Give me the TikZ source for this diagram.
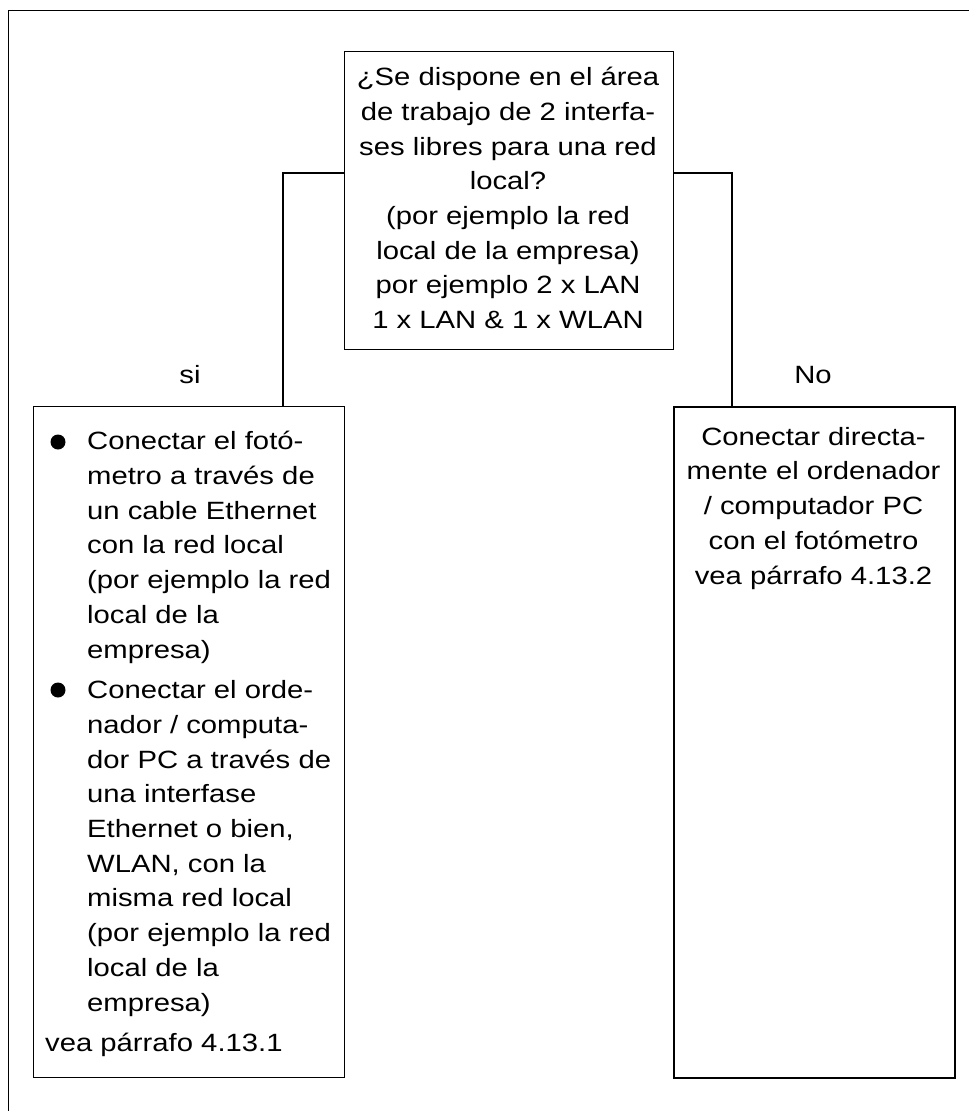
\documentclass[tikz,border=0pt]{standalone}
\usepackage{fontspec}
\setmainfont{Liberation Sans}[FakeStretch=1.17]
\begin{document}
\begin{tikzpicture}[x=1pt,y=-1pt,
  box/.style={draw,line width=1pt,anchor=north west,inner sep=0pt},
  conn/.style={line width=1.5pt},
  txt/.style={inner sep=0pt,font=\fontsize{25}{34.7}\selectfont},
  dot/.style={circle,fill=black,inner sep=0pt,minimum size=15pt}]
\useasboundingbox (0,0) rectangle (969,1111);
\draw[line width=1pt] (969,10) -- (8,10) -- (8,1111);
% boxes
\node[box,minimum width=329pt,minimum height=298pt] (q) at (344,51) {};
\node[box,minimum width=311pt,minimum height=671pt] (yes) at (33,406) {};
\node[box,line width=1.5pt,minimum width=281pt,minimum height=671pt] (no) at (673,406) {};
% question text (anchor base = last line baseline)
\node[txt,align=center,anchor=base] (qt) at (508,328.5) {¿Se dispone en el área\\de trabajo de 2 interfa-\\ses libres para una red\\local?\\(por ejemplo la red\\local de la empresa)\\por ejemplo 2 x LAN\\1 x LAN \& 1 x WLAN};
% connectors
\coordinate (qL) at (344,173);
\coordinate (qR) at (673,173);
\coordinate (yesT) at (283,406);
\coordinate (noT) at (732,406);
\draw[conn] (qL) -| (yesT);
\draw[conn] (qR) -| (noT);
\node[txt,anchor=base] (si) at (190,383) {si};
\node[txt,anchor=base] (nolab) at (813,383) {No};
% yes box content
\node[dot] (b1) at (58,442) {};
\node[txt,align=left,anchor=base west] (i1) at (87,658) {Conectar el fotó-\\metro a través de\\un cable Ethernet\\con la red local\\(por ejemplo la red\\local de la\\empresa)};
\node[dot] (b2) at (58,690) {};
\node[txt,align=left,anchor=base west] (i2) at (87,1011) {Conectar el orde-\\nador / computa-\\dor PC a través de\\una interfase\\Ethernet o bien,\\WLAN, con la\\misma red local\\(por ejemplo la red\\local de la\\empresa)};
\node[txt,anchor=base west] (v1) at (45,1051) {vea párrafo 4.13.1};
% no box content
\node[txt,align=center,anchor=base] (nt) at (813.5,584) {Conectar directa-\\mente el ordenador\\/ computador PC\\con el fotómetro\\vea párrafo 4.13.2};
\end{tikzpicture}
\end{document}
